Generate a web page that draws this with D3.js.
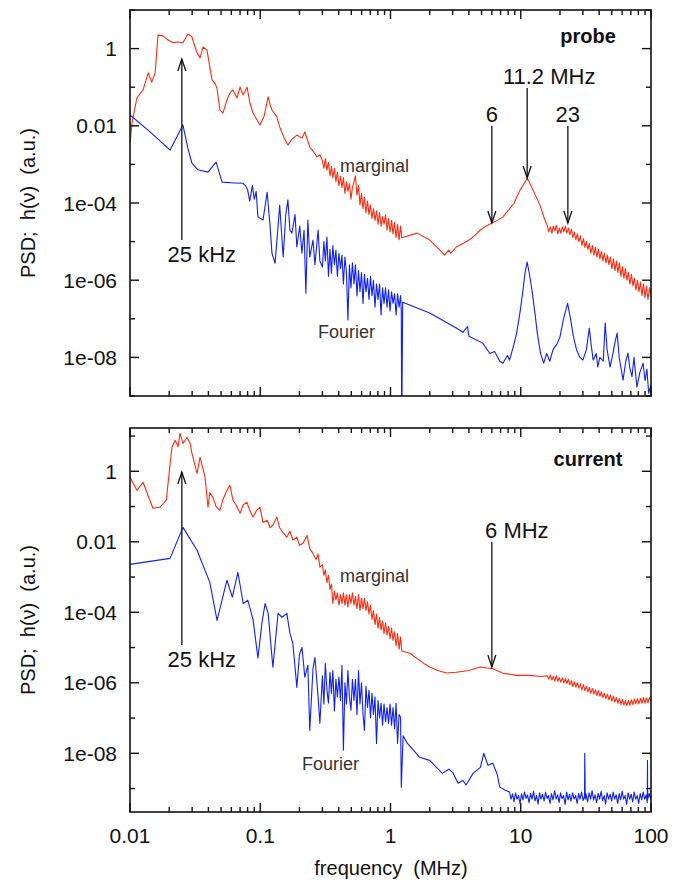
<!DOCTYPE html>
<html>
<head>
<meta charset="utf-8">
<script src="https://cdn.jsdelivr.net/npm/d3@7"></script>
<style>
  body { margin: 0; background: #fff; }
  svg { display: block; }
  text { font-family: "Liberation Sans", Arial, sans-serif; fill: #111; }
</style>
</head>
<body>
<div id="chart"></div>
<script>
// frequency in MHz, psd as log10 value (a.u.)
const xTickValues = [0.01, 0.1, 1, 10, 100];
const xTickLabels = ["0.01", "0.1", "1", "10", "100"];
const yTickValues = [1, 0.01, 1e-4, 1e-6, 1e-8];
const yTickLabels = ["1", "0.01", "1e-04", "1e-06", "1e-08"];

const probeMarginal = [
  [0.010,-2.45],[0.0104,-1.9],[0.0113,-1.28],[0.0126,-1.07],[0.0138,-0.63],[0.0147,-0.87],[0.0156,-0.63],
  [0.0164,0.35],[0.0179,0.33],[0.0196,0.22],[0.0214,0.15],[0.0234,0.17],[0.0255,0.15],[0.0279,0.38],
  [0.0299,0.30],[0.0327,-0.11],[0.0345,-0.24],[0.0364,0.04],[0.039,-0.04],[0.0426,-0.81],[0.0449,-0.9],
  [0.0465,-1.02],[0.049,-1.59],[0.0517,-1.67],[0.0555,-1.33],[0.0585,-1.15],[0.0617,-1.07],[0.0663,-1.28],
  [0.07,-1.0],[0.0738,-1.2],[0.0792,-1.0],[0.0833,-1.41],[0.088,-1.67],[0.0945,-1.85],[0.0995,-1.98],
  [0.107,-1.75],[0.115,-1.25],[0.119,-1.45],[0.123,-1.59],[0.134,-1.77],[0.141,-2.03],[0.152,-2.3],
  [0.163,-2.5],[0.175,-2.35],[0.191,-2.24],[0.209,-2.32],[0.22,-2.16],[0.24,-2.55],[0.26,-2.7],
  [0.272,-2.81],[0.287,-2.75],
  [0.30,-2.9],[0.308,-3.1],[0.316,-2.85],[0.325,-3.15],[0.334,-2.95],[0.343,-3.3],[0.352,-3.05],
  [0.361,-3.35],[0.371,-3.1],[0.381,-3.45],[0.391,-3.2],[0.402,-3.55],[0.413,-3.3],[0.424,-3.6],
  [0.435,-3.35],[0.447,-3.75],[0.459,-3.45],[0.471,-3.7],[0.484,-3.5],[0.497,-3.9],[0.51,-3.6],
  [0.524,-3.45],[0.538,-3.3],[0.553,-3.8],[0.568,-3.55],[0.583,-4.05],[0.599,-3.75],[0.615,-4.15],
  [0.631,-3.85],[0.648,-4.25],[0.666,-3.95],[0.684,-4.3],[0.702,-4.05],[0.721,-4.4],[0.74,-4.15],
  [0.76,-4.45],[0.781,-4.2],[0.802,-4.55],[0.824,-4.25],[0.846,-4.6],[0.869,-4.35],[0.892,-4.55],
  [0.916,-4.3],[0.941,-4.7],[0.966,-4.4],[0.992,-4.75],[1.019,-4.45],[1.046,-4.8],[1.075,-4.5],
  [1.104,-4.9],[1.133,-4.55],[1.164,-4.95],[1.195,-4.6],[1.22,-4.9],
  [1.6,-4.78],[2.0,-4.96],[2.4,-5.22],[2.6,-5.35],[2.8,-5.22],[2.9,-5.3],[3.2,-5.14],[3.6,-5.05],
  [4.0,-4.96],[4.4,-4.85],[4.9,-4.7],[5.4,-4.6],[6.0,-4.52],[6.6,-4.45],[7.3,-4.36],[8.0,-4.2],
  [8.9,-4.0],[9.3,-3.85],[9.9,-3.66],[10.6,-3.5],[11.2,-3.36],[11.8,-3.5],[12.4,-3.66],[13.4,-3.9],
  [14.2,-4.1],[15.0,-4.35],
  [16,-4.6],[16.43,-4.75],[16.87,-4.62],[17.33,-4.78],[17.79,-4.6],[18.27,-4.72],[18.76,-4.58],
  [19.27,-4.8],[19.79,-4.65],[20.32,-4.78],[20.87,-4.62],[21.43,-4.75],[22.0,-4.6],[22.6,-4.78],
  [23.2,-4.65],[23.8,-4.82],[24.5,-4.68],[25.1,-4.9],[25.8,-4.75],[26.5,-4.95],[27.2,-4.8],[27.9,-5.0],
  [28.7,-4.85],[29.5,-5.1],[30.3,-4.92],[31.1,-5.15],[31.9,-5.0],[32.8,-5.2],[33.6,-5.05],[34.5,-5.3],
  [35.5,-5.1],[36.4,-5.35],[37.4,-5.15],[38.4,-5.4],[39.5,-5.2],[40.5,-5.45],[41.6,-5.25],[42.7,-5.5],
  [43.9,-5.3],[45.1,-5.55],[46.3,-5.35],[47.5,-5.6],[48.8,-5.4],[50.1,-5.7],[51.5,-5.45],[52.9,-5.75],
  [54.3,-5.5],[55.7,-5.8],[57.2,-5.55],[58.8,-5.9],[60.4,-5.65],[62.0,-5.95],[63.6,-5.7],[65.3,-6.0],
  [67.1,-5.8],[68.9,-6.1],[70.8,-5.85],[72.7,-6.15],[74.6,-5.95],[76.6,-6.25],[78.7,-6.0],[80.8,-6.3],
  [83.0,-6.05],[85.2,-6.4],[87.5,-6.1],[89.9,-6.45],[92.3,-6.15],[94.8,-6.5],[97.3,-6.2],[100,-6.4]
];

const probeFourier = [
  [0.010,-1.72],[0.0142,-2.15],[0.0203,-2.63],[0.0255,-1.98],[0.0279,-2.6],[0.0299,-2.97],[0.0332,-3.14],
  [0.0397,-3.2],[0.0458,-2.94],[0.0509,-3.46],[0.064,-3.48],[0.0738,-3.49],[0.077,-3.55],[0.080,-3.66],
  [0.083,-3.95],[0.087,-3.55],[0.090,-3.9],[0.093,-3.7],[0.096,-4.36],[0.105,-4.44],[0.113,-3.72],
  [0.119,-4.6],[0.123,-5.3],[0.130,-5.56],[0.137,-4.6],[0.141,-4.05],[0.150,-5.4],[0.157,-4.3],
  [0.163,-3.92],[0.169,-4.7],[0.175,-4.78],[0.185,-4.3],[0.191,-5.14],[0.201,-4.6],[0.209,-5.3],
  [0.217,-4.7],[0.224,-6.34],[0.232,-4.44],[0.24,-5.4],[0.254,-4.96],[0.263,-5.6],[0.278,-4.7],
  [0.287,-5.5],
  [0.30,-5.66],[0.308,-5.0],[0.316,-5.5],[0.325,-4.88],[0.334,-5.9],[0.343,-5.2],[0.352,-5.82],
  [0.361,-5.1],[0.371,-5.6],[0.381,-5.22],[0.391,-5.9],[0.402,-5.3],[0.413,-5.7],[0.424,-5.35],
  [0.435,-6.1],[0.447,-5.4],[0.459,-5.8],[0.471,-7.03],[0.484,-5.6],[0.497,-6.2],[0.51,-5.55],
  [0.524,-6.1],[0.538,-5.6],[0.553,-6.4],[0.568,-5.75],[0.583,-6.3],[0.599,-5.8],[0.615,-6.6],
  [0.631,-5.85],[0.648,-6.3],[0.666,-5.95],[0.684,-6.5],[0.702,-5.9],[0.721,-6.4],[0.74,-6.0],
  [0.76,-6.7],[0.781,-6.1],[0.802,-6.5],[0.824,-6.1],[0.846,-6.9],[0.869,-6.2],[0.892,-6.6],
  [0.916,-6.2],[0.941,-6.7],[0.966,-6.25],[0.992,-6.8],[1.019,-6.3],[1.046,-6.6],[1.075,-6.35],
  [1.104,-6.9],[1.133,-6.35],[1.164,-6.7],[1.195,-6.4],[1.21,-6.8],[1.22,-10],[1.24,-6.57],
  [2.0,-6.85],[3.2,-7.24],[3.6,-7.35],[3.9,-7.2],
  [4.0,-7.45],[5.1,-7.63],[5.8,-7.9],[6.3,-7.85],[6.9,-8.1],[7.3,-8.15],[7.9,-7.95],[8.2,-8.07],
  [8.8,-7.7],[9.3,-7.37],[9.9,-6.8],[10.4,-6.26],[10.8,-5.8],[11.2,-5.53],[11.6,-5.8],[12.2,-6.26],
  [12.9,-6.9],[13.4,-7.37],[14.2,-7.9],[15,-8.15],[15.8,-7.9],[16.7,-8.1],[17.7,-7.8],[19,-7.65],
  [20,-7.47],[21.3,-7.0],[22.9,-6.6],[24.1,-7.0],[25.4,-7.47],[26.8,-7.8],[28.5,-8.0],[30,-8.07],
  [31.9,-7.8],[33.6,-7.24],[34.8,-7.7],[36,-8.07],[38,-7.9],[39,-8.25],[40.5,-8.0],[43,-8.1],
  [44.5,-7.11],[46,-7.8],[48.5,-8.25],[51,-7.9],[53,-7.6],[55,-7.37],[57,-8.0],[59,-8.3],[61,-8.59],
  [64,-8.1],[66.5,-7.89],[69,-8.3],[71.5,-8.5],[74,-8.0],[78,-8.77],[82,-8.4],[87,-8.15],[90,-8.6],
  [93,-8.3],[96,-8.93],[100,-8.7]
];

const currentMarginal = [
  [0.010,-0.17],[0.0113,-0.54],[0.0126,-0.31],[0.0138,-0.7],[0.015,-1.05],[0.017,-1.02],[0.019,-0.82],
  [0.0203,0.2],[0.021,0.68],[0.0222,0.88],[0.0234,0.7],[0.0242,1.08],[0.0255,0.79],[0.0274,0.96],
  [0.0289,0.8],[0.0299,0.51],[0.0327,-0.06],[0.0345,0.4],[0.0377,-0.17],[0.0397,-1.02],[0.041,-0.6],
  [0.0433,-0.74],[0.0458,-1.0],[0.049,-1.11],[0.0517,-0.8],[0.0555,-0.54],[0.0585,-0.4],[0.0617,-0.82],
  [0.065,-0.95],[0.07,-1.19],[0.074,-0.95],[0.079,-0.88],[0.083,-1.1],[0.088,-1.3],[0.094,-1.1],
  [0.0995,-1.02],[0.105,-1.45],[0.113,-1.39],[0.119,-1.6],[0.125,-1.53],[0.134,-1.3],[0.141,-1.6],
  [0.150,-1.75],[0.16,-1.87],[0.169,-1.7],[0.178,-1.95],[0.191,-1.87],[0.20,-2.1],[0.213,-2.04],
  [0.229,-1.82],[0.24,-2.2],[0.254,-2.33],[0.268,-2.5],[0.278,-2.35],[0.287,-2.72],
  [0.30,-2.65],[0.308,-2.95],[0.316,-2.8],[0.325,-3.15],[0.334,-2.95],[0.343,-3.35],[0.352,-3.2],
  [0.361,-3.75],[0.371,-3.4],[0.381,-3.65],[0.391,-3.45],[0.402,-3.8],[0.413,-3.5],[0.424,-3.75],
  [0.435,-3.45],[0.447,-3.8],[0.459,-3.5],[0.471,-3.85],[0.484,-3.5],[0.497,-3.75],[0.51,-3.45],
  [0.524,-3.8],[0.538,-3.55],[0.553,-3.9],[0.568,-3.5],[0.583,-3.95],[0.599,-3.6],[0.615,-3.9],
  [0.631,-3.6],[0.648,-3.95],[0.666,-3.7],[0.684,-4.05],[0.702,-3.8],[0.721,-4.2],[0.74,-3.95],
  [0.76,-4.35],[0.781,-4.05],[0.802,-4.45],[0.824,-4.15],[0.846,-4.5],[0.869,-4.25],[0.892,-4.6],
  [0.916,-4.3],[0.941,-4.65],[0.966,-4.4],[0.992,-4.75],[1.019,-4.45],[1.046,-4.8],[1.075,-4.55],
  [1.104,-4.95],[1.133,-4.6],[1.164,-5.05],[1.195,-4.7],[1.22,-5.1],
  [1.41,-5.16],[1.8,-5.45],[2.0,-5.55],[2.3,-5.65],[2.7,-5.72],[3.2,-5.7],
  [4.0,-5.65],[4.9,-5.55],[5.5,-5.58],[6.0,-5.59],[7.3,-5.73],[9.3,-5.79],[11.8,-5.79],[14.2,-5.82],
  [16,-5.8],[16.43,-5.9],[16.87,-5.78],[17.33,-5.92],[17.79,-5.82],[18.27,-5.95],[18.76,-5.8],
  [19.27,-5.96],[19.79,-5.85],[20.32,-5.98],[20.87,-5.86],[21.43,-6.0],[22.0,-5.88],[22.6,-6.02],
  [23.2,-5.9],[23.8,-6.06],[24.5,-5.94],[25.1,-6.1],[25.8,-5.97],[26.5,-6.12],[27.2,-6.0],[27.9,-6.15],
  [28.7,-6.03],[29.5,-6.2],[30.3,-6.05],[31.1,-6.22],[31.9,-6.1],[32.8,-6.26],[33.6,-6.13],[34.5,-6.3],
  [35.5,-6.16],[36.4,-6.32],[37.4,-6.2],[38.4,-6.36],[39.5,-6.22],[40.5,-6.38],[41.6,-6.26],[42.7,-6.42],
  [43.9,-6.3],[45.1,-6.45],[46.3,-6.32],[47.5,-6.48],[48.8,-6.35],[50.1,-6.52],[51.5,-6.38],[52.9,-6.55],
  [54.3,-6.42],[55.7,-6.58],[57.2,-6.45],[58.8,-6.62],[60.4,-6.47],[62.0,-6.63],[63.6,-6.5],[65.3,-6.65],
  [67.1,-6.5],[68.9,-6.64],[70.8,-6.48],[72.7,-6.62],[74.6,-6.46],[76.6,-6.6],[78.7,-6.45],[80.8,-6.6],
  [83.0,-6.44],[85.2,-6.58],[87.5,-6.42],[89.9,-6.58],[92.3,-6.43],[94.8,-6.57],[97.3,-6.42],[100,-6.5]
];

const currentFourier = [
  [0.010,-2.64],[0.0203,-2.47],[0.0255,-1.59],[0.0327,-2.24],[0.041,-3.15],[0.0466,-4.23],[0.0555,-3.09],
  [0.061,-3.57],[0.0674,-2.87],[0.074,-3.75],[0.0803,-3.66],[0.088,-4.2],[0.096,-5.3],[0.103,-4.3],
  [0.109,-3.75],[0.115,-4.03],[0.125,-5.56],[0.137,-4.03],[0.147,-4.14],[0.16,-4.03],[0.169,-4.6],
  [0.178,-4.88],[0.191,-6.13],[0.20,-5.2],[0.209,-5.0],[0.22,-5.84],[0.232,-5.5],[0.24,-7.35],
  [0.254,-5.6],[0.263,-5.28],[0.278,-6.4],[0.287,-7.15],
  [0.30,-5.8],[0.308,-6.6],[0.316,-5.45],[0.325,-6.2],[0.334,-6.58],[0.343,-5.7],[0.352,-6.3],
  [0.361,-5.65],[0.371,-6.8],[0.381,-5.9],[0.391,-6.4],[0.402,-5.84],[0.413,-6.5],[0.424,-5.5],
  [0.435,-7.91],[0.447,-6.0],[0.459,-6.6],[0.471,-5.65],[0.484,-6.4],[0.497,-6.78],[0.51,-5.9],
  [0.524,-6.5],[0.538,-5.9],[0.553,-6.9],[0.568,-5.65],[0.583,-6.6],[0.599,-6.0],[0.615,-6.9],
  [0.631,-7.35],[0.648,-6.1],[0.666,-6.7],[0.684,-6.21],[0.702,-7.0],[0.721,-6.3],[0.74,-6.9],
  [0.76,-6.4],[0.781,-7.72],[0.802,-6.5],[0.824,-7.0],[0.846,-6.58],[0.869,-7.2],[0.892,-6.6],
  [0.916,-7.1],[0.941,-6.7],[0.966,-7.15],[0.992,-6.6],[1.019,-7.2],[1.046,-6.7],[1.075,-7.3],
  [1.104,-6.58],[1.133,-7.72],[1.164,-6.9],[1.195,-6.98],[1.21,-8.96],[1.25,-7.5],
  [1.35,-7.72],[1.67,-8.11],[2.0,-8.2],[2.5,-8.57],[2.8,-8.45],[3.0,-8.54],
  [3.3,-8.85],[3.6,-8.77],[3.8,-8.9],[4.3,-8.57],[4.9,-8.4],[5.2,-8.0],[5.6,-8.34],[6.1,-8.28],
  [6.6,-8.6],[6.9,-8.96],[7.6,-9.05],[8.2,-9.1],
  [8.42,-9.3],[8.65,-9.15],[8.88,-9.38],[9.12,-9.12],[9.36,-9.3],[9.61,-9.2],[9.87,-9.42],[10.14,-9.15],
  [10.41,-9.32],[10.69,-9.1],[10.98,-9.28],[11.27,-9.18],[11.58,-9.4],[11.89,-9.14],[12.21,-9.3],
  [12.54,-9.08],[12.87,-9.35],[13.22,-9.2],[13.57,-9.44],[13.94,-9.12],[14.31,-9.3],[14.7,-9.16],
  [15.1,-9.36],[15.5,-9.1],[15.9,-9.28],[16.3,-9.2],[16.8,-9.42],[17.2,-9.14],[17.7,-9.32],[18.2,-9.06],
  [18.7,-9.3],[19.2,-9.18],[19.7,-9.4],[20.2,-9.12],[20.7,-9.28],[21.3,-9.2],[21.9,-9.45],[22.5,-9.1],
  [23.1,-9.32],[23.7,-9.16],[24.3,-9.36],[25.0,-9.12],[25.7,-9.3],[26.4,-9.2],[27.1,-9.42],[27.8,-9.14],
  [28.5,-9.3],[29.3,-9.1],[30.1,-9.34],[30.9,-9.2],[31.0,-8.0],[31.3,-9.3],[31.7,-9.15],[32.6,-9.38],
  [33.5,-9.12],[34.4,-9.3],[35.3,-9.06],[36.2,-9.32],[37.2,-9.18],[38.2,-9.4],[39.3,-9.14],[40.3,-9.3],
  [41.4,-9.08],[42.5,-9.34],[43.7,-9.2],[44.8,-9.44],[46.0,-9.12],[47.3,-9.3],[48.6,-9.16],[49.9,-9.36],
  [51.2,-9.1],[52.6,-9.3],[54.0,-9.18],[55.5,-9.42],[57.0,-9.14],[58.5,-9.32],[60.1,-9.08],[61.7,-9.3],
  [63.3,-9.2],[65.0,-9.45],[66.8,-9.12],[68.6,-9.3],[70.4,-9.16],[72.3,-9.38],[74.3,-9.1],[76.3,-9.3],
  [78.3,-9.2],[80.4,-9.42],[82.6,-9.14],[84.8,-9.32],[87.1,-9.1],[89.4,-9.3],[91.8,-9.18],[93.6,-9.4],
  [94.0,-8.2],[94.3,-9.3],[96.8,-9.14],[99.4,-9.3],[100,-9.2]
];

// annotation frequencies (MHz)
const probeArrowsDown = [["6", 6], ["11.2 MHz", 11.2], ["23", 23]];
const currentArrowsDown = [["6 MHz", 6]];
const lineArrowUp = ["25 kHz", 0.025];

const W = 675, H = 882;
const left = 130, right = 651;

const svg = d3.select("#chart").append("svg")
  .attr("width", W)
  .attr("height", H);

const x = d3.scaleLog().domain([0.01, 100]).range([left, right]);

function arrow(g, xp, y0, y1) {
  // y1 = tip
  const dir = y1 > y0 ? -1 : 1;
  g.append("line").attr("x1", xp).attr("x2", xp).attr("y1", y0).attr("y2", y1)
    .attr("stroke", "#111").attr("stroke-width", 1.3);
  g.append("path")
    .attr("d", `M${xp - 4},${y1 + dir * 12} L${xp},${y1} L${xp + 4},${y1 + dir * 12}`)
    .attr("fill", "none").attr("stroke", "#111").attr("stroke-width", 1.3);
}

function drawPanel(cfg) {
  const y = d3.scaleLog().domain(cfg.domain).range([cfg.bottom, cfg.top]);
  const g = svg.append("g");

  const clipId = "clip-" + cfg.name;
  svg.append("clipPath").attr("id", clipId)
    .append("rect")
    .attr("x", left).attr("y", cfg.top)
    .attr("width", right - left).attr("height", cfg.bottom - cfg.top);

  const line = d3.line()
    .x(d => x(d[0]))
    .y(d => y(Math.pow(10, d[1])));

  const plot = g.append("g").attr("clip-path", `url(#${clipId})`);
  plot.append("path").datum(cfg.marginal)
    .attr("d", line).attr("fill", "none")
    .attr("stroke", "#ff2a10").attr("stroke-width", 1.1).attr("stroke-linejoin", "round");
  plot.append("path").datum(cfg.fourier)
    .attr("d", line).attr("fill", "none")
    .attr("stroke", "#1020f0").attr("stroke-width", 1.1).attr("stroke-linejoin", "round");

  // frame
  g.append("rect")
    .attr("x", left).attr("y", cfg.top)
    .attr("width", right - left).attr("height", cfg.bottom - cfg.top)
    .attr("fill", "none").attr("stroke", "#111").attr("stroke-width", 1.6);

  // x ticks (inward, top and bottom)
  x.ticks().forEach(v => {
    const major = xTickValues.some(t => Math.abs(t - v) / t < 1e-6);
    const len = major ? 9 : 5;
    const xp = x(v);
    g.append("line").attr("x1", xp).attr("x2", xp)
      .attr("y1", cfg.bottom).attr("y2", cfg.bottom - len)
      .attr("stroke", "#111").attr("stroke-width", 1.4);
    g.append("line").attr("x1", xp).attr("x2", xp)
      .attr("y1", cfg.top).attr("y2", cfg.top + len)
      .attr("stroke", "#111").attr("stroke-width", 1.4);
  });

  // y ticks every decade
  const lo = Math.ceil(Math.log10(cfg.domain[0])), hi = Math.floor(Math.log10(cfg.domain[1]));
  for (let e = lo; e <= hi; e++) {
    const v = Math.pow(10, e);
    const major = yTickValues.some(t => Math.abs(t - v) / t < 1e-6);
    const len = major ? 9 : 5;
    const yp = y(v);
    g.append("line").attr("x1", left).attr("x2", left + len)
      .attr("y1", yp).attr("y2", yp).attr("stroke", "#111").attr("stroke-width", 1.4);
    g.append("line").attr("x1", right).attr("x2", right - len)
      .attr("y1", yp).attr("y2", yp).attr("stroke", "#111").attr("stroke-width", 1.4);
  }

  g.selectAll(".ylab").data(yTickValues).enter().append("text")
    .attr("x", left - 13)
    .attr("y", d => y(d))
    .attr("dy", "0.36em")
    .attr("text-anchor", "end")
    .style("font-size", "21px")
    .text((d, i) => yTickLabels[i]);

  g.append("text")
    .attr("transform", `translate(35,${cfg.labelY}) rotate(-90)`)
    .attr("text-anchor", "middle")
    .style("font-size", "20px")
    .text("PSD;\u00a0\u00a0h(\u03bd)\u00a0\u00a0(a.u.)");

  // panel name
  g.append("text")
    .attr("x", 588).attr("y", cfg.nameY)
    .attr("text-anchor", "middle")
    .style("font-size", "20px").style("font-weight", "bold")
    .text(cfg.name);

  g.append("text").attr("x", 340).attr("y", cfg.marginalY)
    .style("font-size", "18px").style("fill", "#333").text("marginal");
  g.append("text").attr("x", cfg.fourierX).attr("y", cfg.fourierY)
    .style("font-size", "18px").style("fill", "#333").text("Fourier");

  // 25 kHz arrow
  const xa = x(lineArrowUp[1]);
  arrow(g, xa, cfg.upArrow[0], cfg.upArrow[1]);
  g.append("text").attr("x", xa + 20).attr("y", cfg.upArrow[0] + 22)
    .attr("text-anchor", "middle").style("font-size", "22px").text(lineArrowUp[0]);

  cfg.arrows.forEach((a, i) => {
    const xp = x(a[1]);
    const spec = cfg.arrowPos[i];
    arrow(g, xp, spec[0], spec[1]);
    g.append("text").attr("x", xp + spec[2]).attr("y", spec[0] - 4)
      .attr("text-anchor", "middle").style("font-size", "22px").text(a[0]);
  });
}

drawPanel({
  name: "probe",
  domain: [1e-9, 10],
  top: 10, bottom: 396,
  marginal: probeMarginal, fourier: probeFourier,
  labelY: 203, nameY: 43,
  marginalY: 172, fourierX: 318, fourierY: 338,
  upArrow: [240, 59],
  arrows: probeArrowsDown,
  arrowPos: [[126, 223, 0], [88, 178, 22], [126, 223, 0]]
});

drawPanel({
  name: "current",
  domain: [Math.pow(10, -9.665), Math.pow(10, 1.228)],
  top: 428, bottom: 812,
  marginal: currentMarginal, fourier: currentFourier,
  labelY: 620, nameY: 466,
  marginalY: 582, fourierX: 302, fourierY: 770,
  upArrow: [645, 472],
  arrows: currentArrowsDown,
  arrowPos: [[542, 667, 25]]
});

// shared x axis labels
svg.selectAll(".xlab").data(xTickValues).enter().append("text")
  .attr("x", d => x(d))
  .attr("y", 843)
  .attr("text-anchor", "middle")
  .style("font-size", "21px")
  .text((d, i) => xTickLabels[i]);

svg.append("text")
  .attr("x", 391).attr("y", 875)
  .attr("text-anchor", "middle")
  .style("font-size", "20px")
  .text("frequency\u00a0\u00a0(MHz)");
</script>
</body>
</html>
